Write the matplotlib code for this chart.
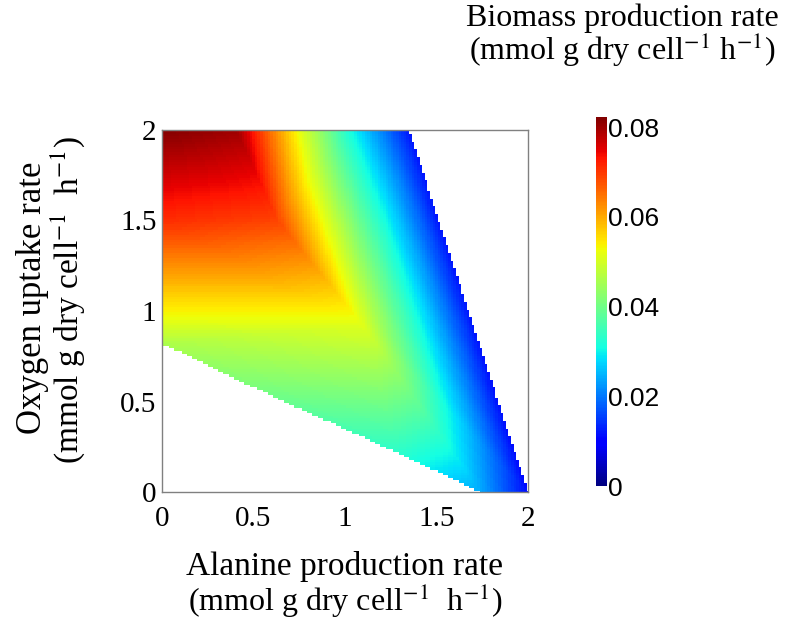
import numpy as np
import matplotlib
matplotlib.use("Agg")
import matplotlib.pyplot as plt
import matplotlib.tri as mtri

plt.rcParams['font.family'] = ['Liberation Serif', 'DejaVu Serif']
plt.rcParams['mathtext.fontset'] = 'stix'

alanine = [0.00, 0.41, 0.75, 1.03, 1.35, 0.00, 0.63, 0.00, 1.10, 1.675, 2.00, 1.74, 1.30, 0.60, 0.00]
oxygen = [2.00, 2.00, 2.00, 2.00, 2.00, 1.50, 1.50, 0.95, 0.92, 1.00, 0.00, 0.00, 0.21, 0.53, 0.82]
biomass = [0.082, 0.080, 0.052, 0.031, 0.012, 0.071, 0.069, 0.052, 0.051, 0.012, 0.011, 0.024, 0.033, 0.040, 0.046]

# planes of the piecewise-linear surface
triangles = [
    (0, 1, 6), (0, 6, 5), (5, 6, 8), (5, 8, 7),
    (1, 2, 6), (2, 3, 6), (3, 8, 6), (3, 4, 8), (4, 9, 8), (8, 9, 10), (8, 10, 11),
    (7, 8, 14), (8, 13, 14), (8, 12, 13), (8, 11, 12),
]

xticks = [0, 0.5, 1, 1.5, 2]
xticklabels = ['0', '0.5', '1', '1.5', '2']
cbar_ticks = [0, 0.02, 0.04, 0.06, 0.08]
cbar_labels = ['0', '0.02', '0.04', '0.06', '0.08']
vmax = 0.0823

unit = '(mmol g dry cell$^{-1}$  h$^{-1}$)'

tri = mtri.Triangulation(alanine, oxygen, triangles)
interp = mtri.LinearTriInterpolator(tri, np.array(biomass))
gx = np.linspace(0, 2, 141)
gy = np.linspace(0, 2, 141)
GX, GY = np.meshgrid(gx, gy)
Z = interp(GX, GY)

fig = plt.figure(figsize=(8.02, 6.24), dpi=100)
ax = fig.add_axes([162 / 802, 132 / 624, 366 / 802, 362 / 624])
mesh = ax.pcolormesh(gx, gy, Z, cmap='jet', vmin=0, vmax=vmax, shading='nearest')
ax.set_xlim(0, 2)
ax.set_ylim(0, 2)
ax.set_xticks(xticks)
ax.set_xticklabels(xticklabels)
ax.set_yticks(xticks)
ax.set_yticklabels(xticklabels)
ax.tick_params(length=0, labelsize=21)
ax.tick_params(axis='x', pad=10)
ax.tick_params(axis='y', pad=4)
for s in ax.spines.values():
    s.set_color('#808080')
    s.set_linewidth(1)

cax = fig.add_axes([596 / 802, 138 / 624, 11 / 802, 369 / 624])
cb = fig.colorbar(mesh, cax=cax)
cb.set_ticks(cbar_ticks)
cb.set_ticklabels(cbar_labels)
cb.outline.set_visible(False)
cax.tick_params(length=0, pad=1, labelsize=19)
for lab in cax.get_yticklabels():
    lab.set_family('Liberation Sans')

fs = 23
fig.text(622 / 802, 1 - 18 / 624, 'Biomass production rate', ha='center', va='center', fontsize=fs)
fig.text(622 / 802, 1 - 50 / 624, '(mmol g dry cell$^{-1}$ h$^{-1}$)', ha='center', va='center', fontsize=fs)

fig.text(33 / 802, 1 - 298 / 624, 'Oxygen uptake rate', ha='center', va='center', rotation=90, fontsize=25)
fig.text(68 / 802, 1 - 300 / 624, unit, ha='center', va='center', rotation=90, fontsize=24)

fig.text(345 / 802, 1 - 567 / 624, 'Alanine production rate', ha='center', va='center', fontsize=24)
fig.text(345 / 802, 1 - 601 / 624, unit, ha='center', va='center', fontsize=fs)

fig.savefig('out.png', dpi=100)
